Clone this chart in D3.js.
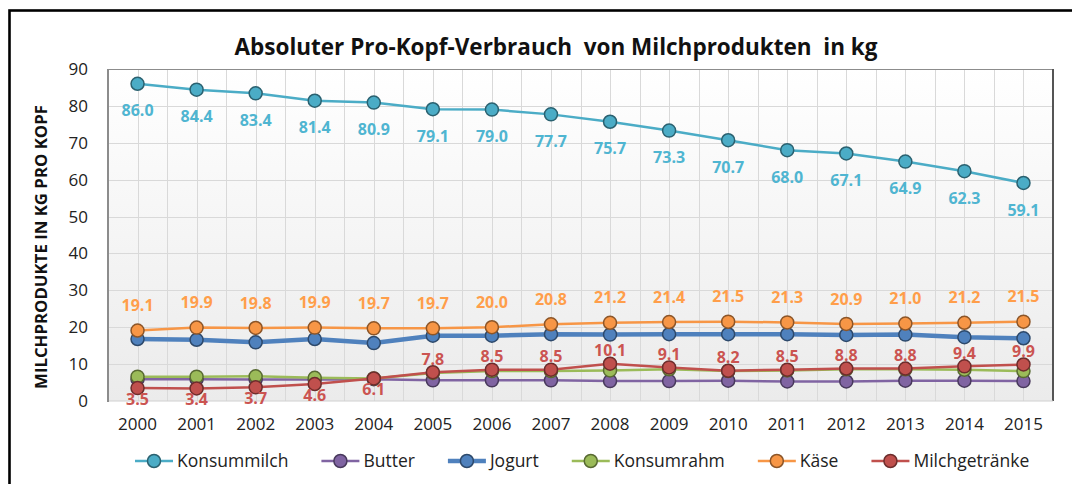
<!DOCTYPE html>
<html>
<head>
<meta charset="utf-8">
<script src="https://cdn.jsdelivr.net/npm/d3@7"></script>
<style>
  body { margin: 0; background: #fff; }
  svg { display: block; font-family: "Open Sans", sans-serif; }
</style>
</head>
<body>
<svg id="chart" width="1072" height="484"></svg>
<script>
const years = ["2000","2001","2002","2003","2004","2005","2006","2007",
               "2008","2009","2010","2011","2012","2013","2014","2015"];
const konsummilch   = [86.0, 84.4, 83.4, 81.4, 80.9, 79.1, 79.0, 77.7, 75.7, 73.3, 70.7, 68.0, 67.1, 64.9, 62.3, 59.1];
const butter        = [5.9, 5.9, 5.8, 5.8, 5.9, 5.6, 5.6, 5.6, 5.4, 5.4, 5.5, 5.3, 5.3, 5.5, 5.5, 5.4];
const jogurt        = [16.8, 16.6, 15.9, 16.8, 15.7, 17.7, 17.7, 18.1, 18.0, 18.1, 18.1, 18.1, 17.9, 18.0, 17.3, 17.0];
const konsumrahm    = [6.6, 6.6, 6.7, 6.3, 6.1, 7.6, 8.1, 8.1, 8.3, 8.6, 8.1, 8.3, 8.6, 8.6, 8.5, 8.1];
const kaese         = [19.1, 19.9, 19.8, 19.9, 19.7, 19.7, 20.0, 20.8, 21.2, 21.4, 21.5, 21.3, 20.9, 21.0, 21.2, 21.5];
const milchgetraenke = [3.5, 3.4, 3.7, 4.6, 6.1, 7.8, 8.5, 8.5, 10.1, 9.1, 8.2, 8.5, 8.8, 8.8, 9.4, 9.9];
const yTicks = [0, 10, 20, 30, 40, 50, 60, 70, 80, 90];

const title = "Absoluter Pro-Kopf-Verbrauch\u00a0 von Milchprodukten\u00a0 in kg";
const yTitle = "MILCHPRODUKTE IN KG PRO KOPF";

// name, values, colour, line width, label placement
const series = [
  {name: "Konsummilch",   values: konsummilch,    color: "#4bacc6", w: 2.5, label: i => 27},
  {name: "Butter",        values: butter,         color: "#8064a2", w: 2.5, label: null},
  {name: "Jogurt",        values: jogurt,         color: "#4f81bd", w: 4.5, label: null},
  {name: "Konsumrahm",    values: konsumrahm,     color: "#9bbb59", w: 2.5, label: null},
  {name: "Käse",          values: kaese,          color: "#f79646", w: 2.5, label: i => -25},
  {name: "Milchgetränke", values: milchgetraenke, color: "#c0504d", w: 2.5, label: i => (i < 5 ? 11 : -13)}
];

const svg = d3.select("#chart");
const plot = {left: 108, right: 1053, top: 69, bottom: 401};

// outer frame
svg.append("rect")
  .attr("x", 9.5).attr("y", 10.5)
  .attr("width", 1080).attr("height", 500)
  .attr("fill", "none").attr("stroke", "#000").attr("stroke-width", 2.6);

const x = d3.scaleBand().domain(years).range([plot.left, plot.right]);
const cx = d => x(d) + x.bandwidth() / 2;
const y = d3.scaleLinear().domain([0, 90]).range([plot.bottom, plot.top]);

// plot background
const grad = svg.append("defs").append("linearGradient")
  .attr("id", "bg").attr("x1", 0).attr("y1", 0).attr("x2", 0).attr("y2", 1);
grad.append("stop").attr("offset", "0%").attr("stop-color", "#ffffff");
grad.append("stop").attr("offset", "100%").attr("stop-color", "#ebebeb");
svg.append("rect")
  .attr("x", plot.left).attr("y", plot.top)
  .attr("width", plot.right - plot.left).attr("height", plot.bottom - plot.top)
  .attr("fill", "url(#bg)");

// grid
const grid = svg.append("g").attr("stroke", "#d9d9d9").attr("stroke-width", 1);
const vLines = [];
years.forEach(d => { vLines.push(x(d)); vLines.push(cx(d)); });
grid.selectAll("line.v").data(vLines.slice(1)).join("line")
  .attr("x1", d => Math.round(d) + 0.5).attr("x2", d => Math.round(d) + 0.5)
  .attr("y1", plot.top).attr("y2", plot.bottom);
grid.selectAll("line.h").data(yTicks.slice(1)).join("line")
  .attr("x1", plot.left).attr("x2", plot.right)
  .attr("y1", d => Math.round(y(d)) + 0.5).attr("y2", d => Math.round(y(d)) + 0.5);

// plot border
svg.append("line").attr("x1", plot.left).attr("x2", plot.right)
  .attr("y1", plot.top + 0.5).attr("y2", plot.top + 0.5)
  .attr("stroke", "#8c8c8c").attr("stroke-width", 1.2);
svg.append("line").attr("x1", plot.right).attr("x2", plot.right)
  .attr("y1", plot.top).attr("y2", plot.bottom)
  .attr("stroke", "#555").attr("stroke-width", 2);
svg.append("line").attr("x1", plot.left).attr("x2", plot.right)
  .attr("y1", plot.bottom).attr("y2", plot.bottom)
  .attr("stroke", "#d0d0d0").attr("stroke-width", 1);
svg.append("line").attr("x1", plot.left).attr("x2", plot.left)
  .attr("y1", plot.top).attr("y2", plot.bottom + 1)
  .attr("stroke", "#8c8c8c").attr("stroke-width", 2);

// axes
const yAxis = svg.append("g")
  .attr("transform", `translate(${plot.left},0)`)
  .call(d3.axisLeft(y).tickValues(yTicks).tickSize(0).tickPadding(20));
yAxis.select(".domain").remove();
yAxis.selectAll("text").attr("font-size", 17).attr("fill", "#222")
  .attr("font-family", "Open Sans");

const xAxis = svg.append("g")
  .attr("transform", `translate(0,${plot.bottom})`)
  .call(d3.axisBottom(x).tickSize(0).tickPadding(17));
xAxis.select(".domain").remove();
xAxis.selectAll("text").attr("font-size", 17).attr("fill", "#222")
  .attr("font-family", "Open Sans");

// titles
svg.append("text")
  .attr("x", 556).attr("y", 55)
  .attr("text-anchor", "middle")
  .attr("font-size", 22.5).attr("font-weight", "bold").attr("fill", "#111")
  .text(title);

svg.append("text")
  .attr("transform", `translate(47,247) rotate(-90)`)
  .attr("text-anchor", "middle")
  .attr("font-size", 16.8).attr("font-weight", "bold").attr("fill", "#111")
  .text(yTitle);

// series
const line = d3.line().x((d, i) => cx(years[i])).y(d => y(d));
const seriesG = svg.append("g");
for (const s of series) {
  const g = seriesG.append("g");
  g.append("path")
    .attr("d", line(s.values))
    .attr("fill", "none")
    .attr("stroke", s.color)
    .attr("stroke-width", s.w)
    .attr("stroke-linejoin", "round");
  g.selectAll("circle").data(s.values).join("circle")
    .attr("cx", (d, i) => cx(years[i]))
    .attr("cy", d => y(d))
    .attr("r", 6.5)
    .attr("fill", s.color)
    .attr("stroke", d3.color(s.color).darker(1.6))
    .attr("stroke-width", 1.5);
}

// data labels
for (const s of series) {
  if (!s.label) continue;
  svg.append("g").selectAll("text").data(s.values).join("text")
    .attr("x", (d, i) => cx(years[i]))
    .attr("y", (d, i) => y(d) + s.label(i))
    .attr("dy", "0.35em")
    .attr("text-anchor", "middle")
    .attr("font-size", 16).attr("font-weight", "bold")
    .attr("fill", d3.color(s.color).brighter(0.15))
    .text(d => d.toFixed(1));
}

// legend
const legend = svg.append("g").attr("transform", "translate(0,461)");
const items = legend.selectAll("g").data(series).join("g");
items.append("line")
  .attr("x1", 0).attr("x2", 38)
  .attr("stroke", d => d.color).attr("stroke-width", d => d.w);
items.append("circle")
  .attr("cx", 19).attr("r", 6.5)
  .attr("fill", d => d.color)
  .attr("stroke", d => d3.color(d.color).darker(1.6)).attr("stroke-width", 1.5);
items.append("text")
  .attr("x", 42).attr("dy", "0.35em")
  .attr("font-size", 17.5).attr("fill", "#222")
  .text(d => d.name);
let widths = [];
items.each(function () { widths.push(42 + this.querySelector("text").getComputedTextLength()); });
const gap = 33;
const total = d3.sum(widths) + gap * (widths.length - 1);
let pos = 135;
items.attr("transform", (d, i) => {
  const t = `translate(${pos},0)`;
  pos += widths[i] + gap;
  return t;
});
</script>
</body>
</html>
